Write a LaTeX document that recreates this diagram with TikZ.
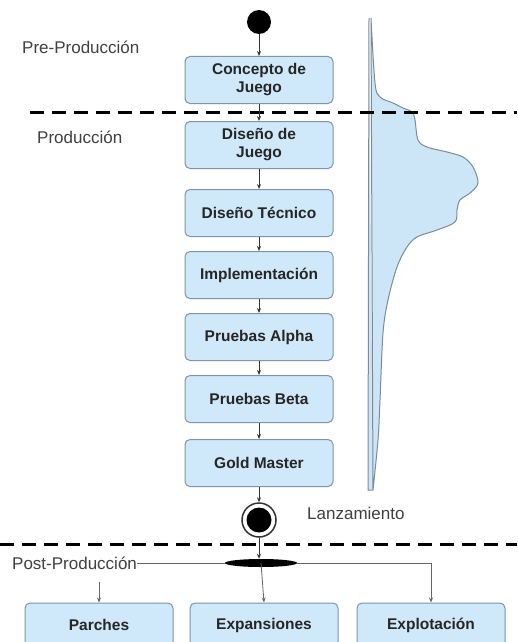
\documentclass[tikz,border=0pt]{standalone}
\usepackage{fontspec}
\setmainfont{Liberation Sans}
\usetikzlibrary{arrows.meta,shapes.geometric}
\definecolor{boxfill}{HTML}{CFE8FA}
\definecolor{boxline}{HTML}{7F95A8}
\definecolor{curvefill}{HTML}{CCE6F7}
\definecolor{curveline}{HTML}{7D8B99}
\tikzset{
  phase/.style={rounded corners=5pt, draw=boxline, fill=boxfill, line width=1pt,
    minimum width=148pt, minimum height=47pt, align=center,
    font=\fontsize{15.5}{18}\selectfont\bfseries, text=black!85},
  flow/.style={-{Stealth[length=5pt,width=4pt]}, draw=black!80, line width=0.8pt},
  stage/.style={font=\fontsize{17}{20}\selectfont, text=black!75, anchor=west, inner sep=0pt},
  divider/.style={dashed, dash pattern=on 14pt off 8pt, line width=3pt}
}
\begin{document}
\begin{tikzpicture}[x=1pt, y=-1pt]
  \clip (0,0) rectangle (517,642);
  \fill[white] (0,0) rectangle (517,642);

  % effort curve
  \filldraw[fill=curvefill, draw=curveline, line width=1pt]
    (369,18) -- (368,490) -- (373,490)
    plot[smooth, tension=0.55] coordinates {(373,490) (378,440) (380,400) (383,333)
      (388,300) (397,267) (407,247) (417,237) (437,230) (455,222) (457,210)
      (460,200) (470,193) (478,183) (473,167) (463,157) (447,152) (427,147)
      (418,140) (415,120) (412,112) (403,108) (393,103) (380,97) (375,83) (371,18)}
    -- cycle;

  % phase dividers
  \draw[divider] (30,112) -- (517,112);
  \draw[divider] (0,544) -- (517,544);

  \node[stage] (pre) at (22,47) {Pre-Producción};
  \node[stage] (prod) at (37,137) {Producción};
  \node[stage] (lanz) at (307,513) {Lanzamiento};
  \node[stage] (post) at (12,563) {Post-Producción};

  \fill (259,22) circle (12pt);
  \coordinate (start) at (259,34);

  \node[phase] (concepto) at (259,80) {Concepto de\\Juego};
  \node[phase] (diseno) at (259,145) {Diseño de\\Juego};
  \node[phase] (tecnico) at (259,213) {Diseño Técnico};
  \node[phase] (impl) at (259,275) {Implementación};
  \node[phase] (alpha) at (259,337) {Pruebas Alpha};
  \node[phase] (beta) at (259,399) {Pruebas Beta};
  \node[phase] (gold) at (259,463) {Gold Master};

  \node[circle, draw=black!80, fill=white, line width=1.5pt, minimum size=34pt, inner sep=0pt] (launch) at (259,520) {};
  \fill (launch.center) circle (12.5pt);

  \node[ellipse, fill=black, minimum width=72pt, minimum height=8pt, inner sep=0pt] (fork) at (261,563) {};

  \node[phase, minimum height=44pt] (parches) at (99,625) {Parches};
  \node[phase, minimum height=44pt] (expan) at (264,625) {Expansiones};
  \node[phase, minimum height=44pt] (explot) at (431,625) {Explotación};

  \draw[flow] (start) -- (concepto);
  \draw[flow] (concepto) -- (diseno);
  \draw[flow] (diseno) -- (tecnico);
  \draw[flow] (tecnico) -- (impl);
  \draw[flow] (impl) -- (alpha);
  \draw[flow] (alpha) -- (beta);
  \draw[flow] (beta) -- (gold);
  \draw[flow] (gold) -- (launch);
  \draw[flow] (launch.south) -- (launch.south |- fork.north);

  \draw[draw=black!60, line width=0.8pt] (post.east) -- (fork);
  \draw[flow, draw=black!60] (fork.center) -- (expan.north);
  \draw[flow, draw=black!60] (fork.east) -| (explot.north);
  \coordinate (parchestop) at (99,582);
  \draw[flow, draw=black!60] (parchestop) -- (parches.north);
\end{tikzpicture}
\end{document}
